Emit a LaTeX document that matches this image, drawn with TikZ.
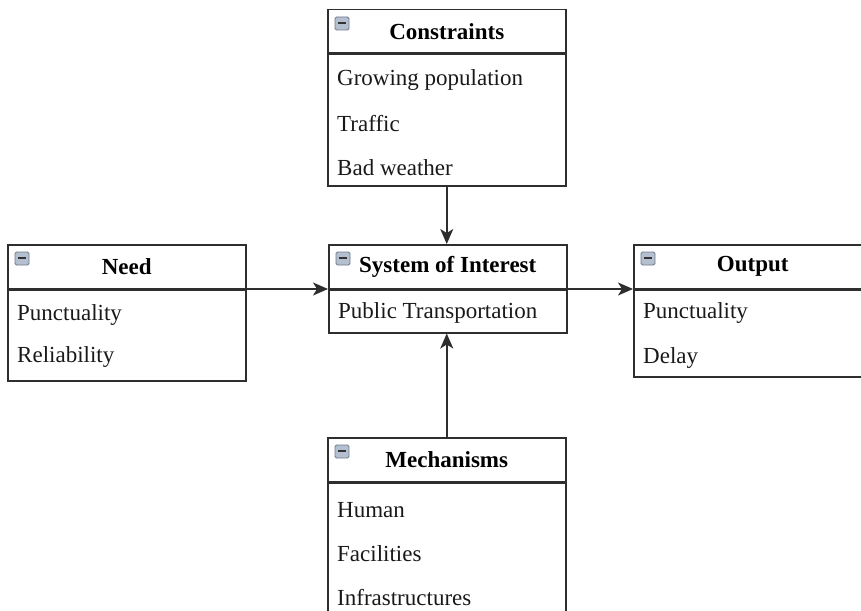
\documentclass[tikz,border=0pt]{standalone}
\usepackage{fontspec}
\setmainfont{Liberation Serif}
\usepackage{tikz}
\usetikzlibrary{positioning, arrows.meta, calc}
\definecolor{boxline}{HTML}{2E2E2E}
\definecolor{iconfill}{HTML}{B4C0CF}
\definecolor{iconline}{HTML}{6F7B8A}
\tikzset{
    minus/.pic = {
    \draw[draw=iconline, line width=0.8pt, fill=iconfill, rounded corners=1.5pt] (8,-8) rectangle (22,-21);
    \draw[line width=2pt, black!80] (11,-14) -- (19,-14);
    },
    header/.style={draw=boxline, line width=1.5pt, rectangle, minimum width=238pt,
        minimum height=43.5pt, inner sep=0pt, font=\bfseries},
    body/.style={draw=boxline, line width=1.5pt, rectangle, minimum width=238pt, inner sep=0pt},
    item/.style={anchor=west, inner sep=0pt, text=black!90},
    flow/.style={-{Stealth[length=15pt,width=13pt,inset=4pt]}, line width=1.5pt, draw=boxline},
}

\begin{document}
\begin{tikzpicture}[x=1pt, y=1pt]
    \fontsize{23}{27}\selectfont
    \path[use as bounding box, clip] (0,0) rectangle (861,-610);

    % Constraints
    \node[header, anchor=north west] (cons) at (327,-9) {Constraints};
    \node[body, below=0pt of cons, minimum height=131pt] (cons-body) {};
    \pic at (cons.north west) {minus};
    \foreach \t [count=\i] in {Growing population, Traffic, Bad weather}
      \node[item] (cons-\i) at ([xshift=10pt, yshift={-26pt-44pt*(\i-1)}]cons-body.north west) {\t};

    % Need
    \node[header, anchor=north west] (need) at (7,-244) {Need};
    \node[body, below=0pt of need, minimum height=91pt] (need-body) {};
    \pic at (need.north west) {minus};
    \foreach \t [count=\i] in {Punctuality, Reliability}
      \node[item] (need-\i) at ([xshift=10pt, yshift={-26pt-42pt*(\i-1)}]need-body.north west) {\t};

    % System of Interest
    \node[header, anchor=north west] (sys) at (328,-244) {System of Interest};
    \node[body, below=0pt of sys, minimum height=43pt] (sys-body) {};
    \pic at (sys.north west) {minus};
    \node[item] (sys-1) at ([xshift=10pt, yshift=-24pt]sys-body.north west) {Public Transportation};

    % Output
    \node[header, anchor=north west] (out) at (633,-244) {Output};
    \node[body, below=0pt of out, minimum height=87pt] (out-body) {};
    \pic at (out.north west) {minus};
    \foreach \t [count=\i] in {Punctuality, Delay}
      \node[item] (out-\i) at ([xshift=10pt, yshift={-24pt-45pt*(\i-1)}]out-body.north west) {\t};

    % Mechanisms
    \node[header, anchor=north west] (mech) at (327,-437) {Mechanisms};
    \node[body, below=0pt of mech, minimum height=131pt] (mech-body) {};
    \pic at (mech.north west) {minus};
    \foreach \t [count=\i] in {Human, Facilities, Infrastructures}
      \node[item] (mech-\i) at ([xshift=10pt, yshift={-28pt-44pt*(\i-1)}]mech-body.north west) {\t};

    \draw[flow] (cons-body.south) -- (cons-body.south |- sys.north);
    \draw[flow] (mech.north) -- (mech.north |- sys-body.south);
    \draw[flow] (need.south east) -- (sys.south west);
    \draw[flow] (sys.south east) -- (out.south west);
  \end{tikzpicture}
\end{document}
